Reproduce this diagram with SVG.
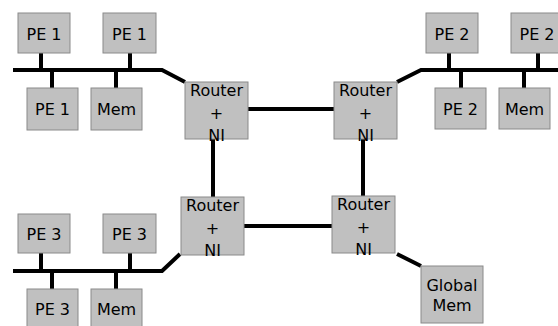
<svg xmlns="http://www.w3.org/2000/svg" width="558" height="326" viewBox="0 0 558 326">
<style>
.b{fill:#c0c0c0;stroke:#8a8a8a;stroke-width:1}
.t{font-family:"DejaVu Sans",Verdana,sans-serif;font-size:16px;fill:#000;text-anchor:middle}
.w{fill:none;stroke:#000;stroke-width:4;stroke-linejoin:miter}
</style>
<rect width="558" height="326" fill="#fff"/>
<g id="connectors" class="w">
<polyline points="13,70 162,70 185,82"/>
<line x1="41" y1="53" x2="41" y2="70"/><line x1="130" y1="53" x2="130" y2="70"/>
<line x1="52" y1="70" x2="52" y2="88"/><line x1="116" y1="70" x2="116" y2="88"/>
<polyline points="558,70 421,70 397,82"/>
<line x1="449" y1="53" x2="449" y2="70"/><line x1="538" y1="53" x2="538" y2="70"/>
<line x1="461" y1="70" x2="461" y2="88"/><line x1="524" y1="70" x2="524" y2="88"/>
<polyline points="13,271 162,271 180,254"/>
<line x1="41" y1="253" x2="41" y2="271"/><line x1="130" y1="253" x2="130" y2="271"/>
<line x1="52" y1="271" x2="52" y2="289"/><line x1="116" y1="271" x2="116" y2="289"/>
<line x1="248" y1="109" x2="334" y2="109"/>
<line x1="213" y1="139" x2="213" y2="197"/>
<line x1="363" y1="139" x2="363" y2="196"/>
<line x1="244" y1="226" x2="332" y2="226"/>
<line x1="397" y1="254" x2="421" y2="266"/>
</g>
<g id="pe1a"><rect class="b" x="18" y="13" width="52" height="40"/><text class="t" x="44" y="40">PE 1</text></g>
<g id="pe1b"><rect class="b" x="103" y="13" width="53" height="40"/><text class="t" x="129.5" y="40">PE 1</text></g>
<g id="pe1c"><rect class="b" x="27" y="88" width="51" height="42"/><text class="t" x="52.5" y="115">PE 1</text></g>
<g id="mem1"><rect class="b" x="91" y="88" width="51" height="42"/><text class="t" x="116.5" y="115">Mem</text></g>
<g id="pe2a"><rect class="b" x="426" y="13" width="52" height="40"/><text class="t" x="452" y="40">PE 2</text></g>
<g id="pe2b"><rect class="b" x="511" y="13" width="52" height="40"/><text class="t" x="537" y="40">PE 2</text></g>
<g id="pe2c"><rect class="b" x="435" y="88" width="51" height="41"/><text class="t" x="460.5" y="115">PE 2</text></g>
<g id="mem2"><rect class="b" x="499" y="88" width="51" height="41"/><text class="t" x="524.5" y="115">Mem</text></g>
<g id="pe3a"><rect class="b" x="18" y="214" width="52" height="39"/><text class="t" x="44" y="240">PE 3</text></g>
<g id="pe3b"><rect class="b" x="103" y="214" width="53" height="39"/><text class="t" x="129.5" y="240">PE 3</text></g>
<g id="pe3c"><rect class="b" x="27" y="289" width="51" height="42"/><text class="t" x="52.5" y="315">PE 3</text></g>
<g id="mem3"><rect class="b" x="91" y="289" width="51" height="42"/><text class="t" x="116.5" y="315">Mem</text></g>
<g id="router1"><rect class="b" x="185" y="82" width="63" height="57"/><text class="t" x="216.5" y="96">Router</text><text class="t" x="216.5" y="118.5">+</text><text class="t" x="216.5" y="141">NI</text></g>
<g id="router2"><rect class="b" x="334" y="82" width="63" height="57"/><text class="t" x="365.5" y="96">Router</text><text class="t" x="365.5" y="118.5">+</text><text class="t" x="365.5" y="141">NI</text></g>
<g id="router3"><rect class="b" x="181" y="197" width="63" height="58"/><text class="t" x="212.5" y="211">Router</text><text class="t" x="212.5" y="233.5">+</text><text class="t" x="212.5" y="256">NI</text></g>
<g id="router4"><rect class="b" x="332" y="196" width="63" height="57"/><text class="t" x="363.5" y="210">Router</text><text class="t" x="363.5" y="232.5">+</text><text class="t" x="363.5" y="255">NI</text></g>
<g id="globalmem"><rect class="b" x="421" y="266" width="62" height="57"/><text class="t" x="452" y="291">Global</text><text class="t" x="452" y="311">Mem</text></g>
</svg>
